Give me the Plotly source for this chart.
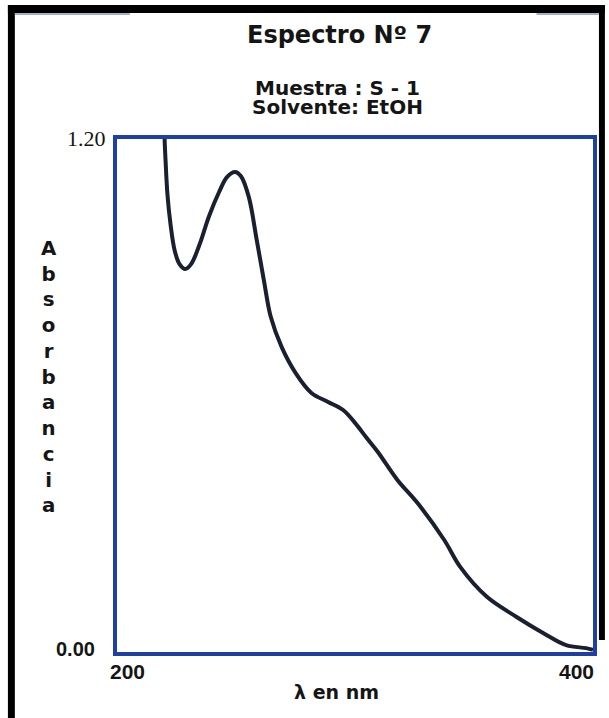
import plotly.graph_objects as go

# UV-Vis spectrum (wavelength in nm, absorbance)
wavelength = [219.6, 220.0, 220.4, 221.2, 222.5, 224.2, 226.2, 228.7, 231.2, 234.6,
              238.7, 242.9, 246.2, 249.6, 252.1, 255.4, 258.7, 261.7, 264.6, 269.2,
              275.0, 281.7, 288.7, 295.0, 300.0, 304.6, 309.6, 317.9, 326.2, 337.5,
              344.2, 355.4, 367.9, 379.2, 388.7, 397.1, 400.0]
absorbance = [1.30, 1.20, 1.15, 1.07, 1.00, 0.94, 0.908, 0.896, 0.908, 0.952,
              1.020, 1.076, 1.111, 1.123, 1.113, 1.064, 0.964, 0.870, 0.784, 0.713,
              0.653, 0.606, 0.585, 0.566, 0.536, 0.503, 0.468, 0.402, 0.349, 0.262,
              0.199, 0.129, 0.082, 0.044, 0.016, 0.009, 0.005]

x_range = [200, 400]
y_range = [0.0, 1.20]
x_tick_labels = ["200", "400"]
y_tick_labels = ["0.00", "1.20"]
y_title = "Absorbancia"

W, H = 609, 718
L, R, T, B = 117, 12, 139, 66
PW, PH = W - L - R, H - T - B


def px(x):
    return (x - L) / PW


def py(y):
    return (H - B - y) / PH


BOX = "#1e40a4"
INK = "#1a2030"
TXT = "#151515"
SANS = "DejaVu Sans"

fig = go.Figure()
fig.add_trace(go.Scatter(
    x=wavelength, y=absorbance, mode="lines",
    line=dict(color=INK, width=4, shape="spline", smoothing=1.0),
    hoverinfo="skip", showlegend=False,
))

axis_common = dict(showgrid=False, zeroline=False, showticklabels=False, ticks="",
                   showline=True, mirror=True, linecolor=BOX, linewidth=4)
fig.update_xaxes(range=x_range, **axis_common)
fig.update_yaxes(range=y_range, **axis_common)


def label(text, x, y, size, family=SANS):
    return dict(text=text, xref="paper", yref="paper", x=px(x), y=py(y),
                xanchor="center", yanchor="middle", showarrow=False,
                font=dict(family=family, size=size, color=TXT))


annotations = [
    label("<b>Espectro Nº 7</b>", 341, 35, 24),
    label("<b>Muestra : S - 1</b>", 339, 88, 20),
    label("<b>Solvente: EtOH</b>", 339, 107, 20),
    label("<b>λ en nm</b>", 338, 692, 19),
    # stacked y title, one letter per line
    label("<b>" + "<br>".join(y_title) + "</b>", 48, 377, 19.8),
]

# y tick labels
annotations.append(dict(text=y_tick_labels[1], xref="paper", yref="y",
                        x=px(108), y=y_range[1], xanchor="right", yanchor="middle",
                        showarrow=False, yshift=1,
                        font=dict(family="Liberation Serif", size=22, color=TXT)))
annotations.append(dict(text="<b>" + y_tick_labels[0] + "</b>", xref="paper", yref="y",
                        x=px(97), y=y_range[0], xanchor="right", yanchor="middle",
                        showarrow=False, yshift=3,
                        font=dict(family="Liberation Sans", size=20, color=TXT)))
# x tick labels
annotations.append(dict(text="<b>" + x_tick_labels[0] + "</b>", xref="x", yref="paper",
                        x=x_range[0], y=0, xanchor="center", yanchor="top",
                        showarrow=False, xshift=10, yshift=-6,
                        font=dict(family="Liberation Sans", size=21, color=TXT)))
annotations.append(dict(text="<b>" + x_tick_labels[1] + "</b>", xref="x", yref="paper",
                        x=x_range[1], y=0, xanchor="center", yanchor="top",
                        showarrow=False, xshift=-17, yshift=-6,
                        font=dict(family="Liberation Sans", size=21, color=TXT)))

# outer black frame edges
shapes = [
    dict(type="rect", xref="paper", yref="paper", x0=px(7), x1=px(14), y0=py(718), y1=py(5),
         fillcolor="black", line=dict(width=0), layer="above"),
    dict(type="rect", xref="paper", yref="paper", x0=px(7), x1=px(609), y0=py(13), y1=py(5),
         fillcolor="black", line=dict(width=0), layer="above"),
    dict(type="rect", xref="paper", yref="paper", x0=px(603), x1=px(609), y0=py(640), y1=py(5),
         fillcolor="black", line=dict(width=0), layer="above"),
    dict(type="rect", xref="paper", yref="paper", x0=px(14), x1=px(130), y0=py(15), y1=py(13),
         fillcolor="#9fb2cc", line=dict(width=0), layer="above"),
    dict(type="rect", xref="paper", yref="paper", x0=px(540), x1=px(603), y0=py(15), y1=py(13),
         fillcolor="#9fb2cc", line=dict(width=0), layer="above"),
]

fig.update_layout(
    width=W, height=H,
    margin=dict(l=L, r=R, t=T, b=B),
    paper_bgcolor="white", plot_bgcolor="white",
    annotations=annotations, shapes=shapes,
)

fig.write_html("out.html")
